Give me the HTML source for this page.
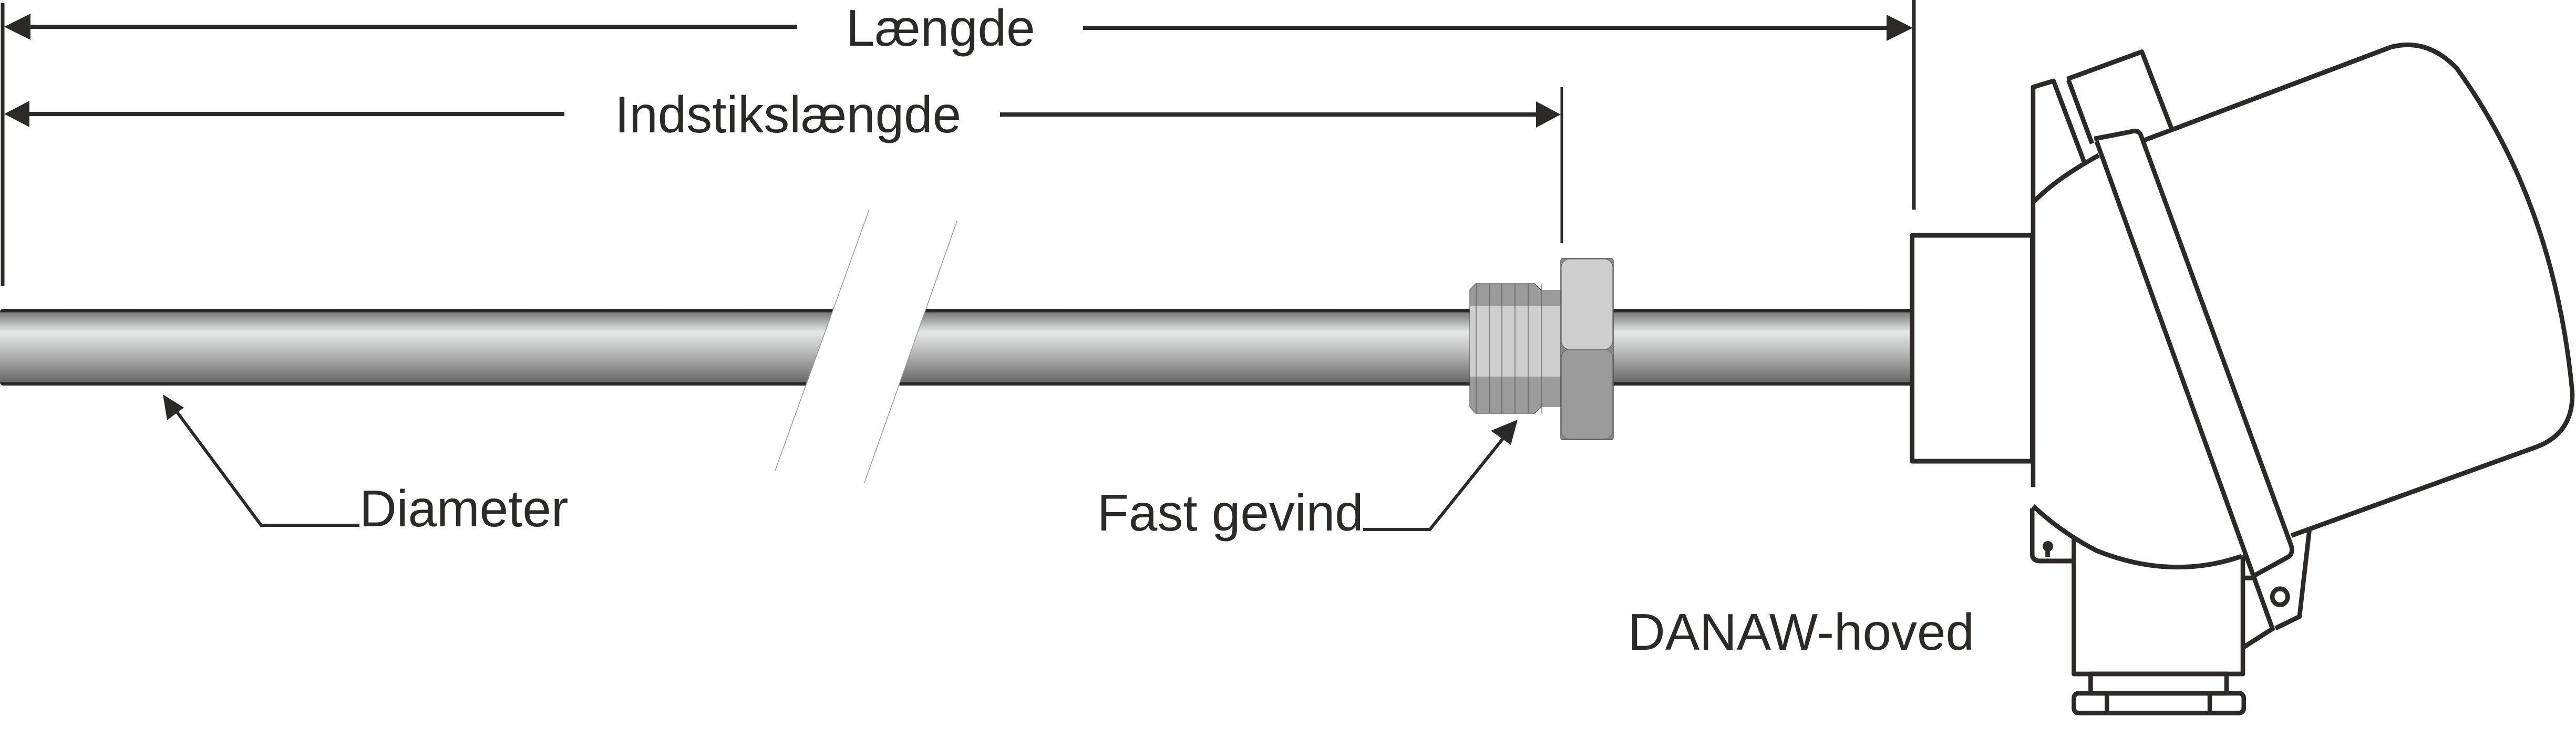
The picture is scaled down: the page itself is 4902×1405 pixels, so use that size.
<!DOCTYPE html>
<html><head><meta charset="utf-8"><style>
html,body{margin:0;padding:0;background:#fff;}
svg{display:block;}
text{font-family:"Liberation Sans",sans-serif;fill:#2b2a28;}
</style></head><body>
<svg width="4902" height="1405" viewBox="0 0 4902 1405" xmlns="http://www.w3.org/2000/svg">
<defs>
<linearGradient id="tube" x1="0" y1="0" x2="0" y2="1">
<stop offset="0" stop-color="#2b2a28"/>
<stop offset="0.04" stop-color="#2b2a28"/>
<stop offset="0.05" stop-color="#7a7a7a"/>
<stop offset="0.30" stop-color="#e6e8e8"/>
<stop offset="0.55" stop-color="#bdbdbd"/>
<stop offset="0.95" stop-color="#6a6a6a"/>
<stop offset="0.96" stop-color="#2b2a28"/>
<stop offset="1" stop-color="#2b2a28"/>
</linearGradient>
</defs>

<!-- tube -->
<rect x="0" y="588" width="3645" height="146" rx="6" fill="url(#tube)"/>

<!-- break -->
<polygon points="1654,399 1821,421 1645,919 1475,896" fill="#fff"/>
<line x1="1654" y1="399" x2="1475" y2="896" stroke="#999" stroke-width="1.5"/>
<line x1="1821" y1="421" x2="1645" y2="919" stroke="#999" stroke-width="1.5"/>

<!-- fitting thread -->
<g stroke="#555" stroke-width="1.2">
<rect x="2797" y="552" width="173" height="223" fill="#9b9b9b" stroke="none"/>
<path d="M2797,552 L2808,540 L2920,540 L2933,552 L2933,775 L2920,787 L2808,787 L2797,775 Z" fill="#9b9b9b"/>
<rect x="2797" y="582" width="173" height="135" fill="#cecece" stroke="none"/>
<line x1="2809" y1="540" x2="2809" y2="787"/>
<line x1="2834" y1="540" x2="2834" y2="787"/>
<line x1="2858" y1="540" x2="2858" y2="787"/>
<line x1="2883" y1="540" x2="2883" y2="787"/>
<line x1="2908" y1="540" x2="2908" y2="787"/>
<line x1="2933" y1="540" x2="2933" y2="787"/>
</g>
<!-- nut -->
<rect x="2970" y="492" width="100" height="345" rx="4" fill="#8a8a8a" stroke="#555" stroke-width="1.5"/>
<rect x="2971" y="493" width="98" height="172" rx="16" fill="#cecece" stroke="#666" stroke-width="1.2"/>
<rect x="2971" y="665" width="98" height="171" rx="16" fill="#9b9b9b" stroke="#666" stroke-width="1.2"/>

<!-- dimension lines -->
<g stroke="#2b2a28" fill="none">
<line x1="5" y1="6" x2="5" y2="544" stroke-width="7"/>
<line x1="50" y1="51" x2="1517" y2="51" stroke-width="8"/>
<line x1="2061" y1="53" x2="3600" y2="53" stroke-width="8"/>
<line x1="50" y1="217" x2="1074" y2="217" stroke-width="8"/>
<line x1="1903" y1="218" x2="2925" y2="218" stroke-width="8"/>
<line x1="2972" y1="166" x2="2972" y2="463" stroke-width="5"/>
<line x1="3642" y1="0" x2="3642" y2="399" stroke-width="7"/>
</g>
<g fill="#2b2a28">
<polygon points="8,51 58,26 58,76"/>
<polygon points="8,217 56,192 56,242"/>
<polygon points="3640,53 3590,28 3590,78"/>
<polygon points="2970,218 2923,193 2923,243"/>
</g>

<text x="1610" y="87" font-size="98">Længde</text>
<text x="1170" y="252" font-size="98">Indstikslængde</text>
<text x="684" y="1002" font-size="98">Diameter</text>
<text x="2088" y="1010" font-size="98">Fast gevind</text>
<text x="3098" y="1237" font-size="98">DANAW-hoved</text>

<!-- leaders -->
<g stroke="#2b2a28" fill="none" stroke-width="6">
<polyline points="684,1000 497,1000 335,782"/>
<polyline points="2594,1008 2721,1008 2860,835"/>
</g>
<polygon points="310,751 318,800 350,776" fill="#2b2a28"/>
<polygon points="2888,799 2837,820 2875,847" fill="#2b2a28"/>

<!-- head -->
<g transform="translate(3550,0) scale(0.862,0.896)" stroke="#2b2a28" stroke-width="10" fill="none" stroke-linejoin="round">
<rect x="103" y="500" width="265" height="480" fill="#fff"/>
<path d="M370,1035 L370,185 L415,172 L485,350"/>
<path d="M445,168 L610,110 L675,272"/>
<path d="M448,170 L500,305"/>
<path d="M370,430 Q420,380 515,330"/>
<path d="M615,298 L1160,100 Q1240,80 1305,145 Q1520,430 1560,830 Q1565,920 1480,950 L940,1138"/>
<path d="M505,295 L585,280 Q600,275 607,285 L940,1160 Q945,1178 930,1185 L860,1222"/>
<path d="M510,300 L900,1340"/>
<path d="M370,1075 Q430,1130 510,1170 Q600,1205 690,1205 Q760,1205 830,1182"/>
<path d="M368,1080 L368,1180 Q370,1192 385,1192 L460,1192"/>
<path d="M460,1145 L460,1432 L833,1432 L833,1180"/>
<path d="M835,1228 L855,1228"/>
<path d="M980,1125 L958,1310 L905,1335"/>
<path d="M835,1375 L900,1335"/>
<rect x="497" y="1432" width="300" height="41"/>
<rect x="460" y="1473" width="375" height="42" rx="10"/>
<line x1="533" y1="1473" x2="533" y2="1515"/>
<line x1="760" y1="1473" x2="760" y2="1515"/>
<circle cx="915" cy="1268" r="17"/>
<line x1="402" y1="1165" x2="402" y2="1184"/>
</g>
<circle cx="3897" cy="1040" r="10" fill="#2b2a28"/>
</svg>
</body></html>
